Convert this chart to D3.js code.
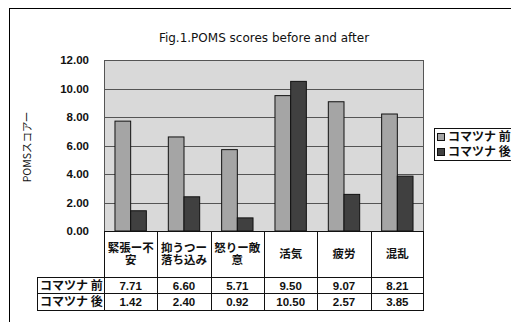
<!DOCTYPE html>
<html>
<head>
<meta charset="utf-8">
<script src="https://cdn.jsdelivr.net/npm/d3@7"></script>
<style>
  html, body { margin: 0; padding: 0; background: #fff; }
  svg { display: block; font-family: "Noto Sans CJK JP", "DejaVu Sans", sans-serif; }
</style>
</head>
<body>
<svg id="chart" width="511" height="322"></svg>
<script>
// POMS subscale scores, before and after
const categories = ["緊張ー不安", "抑うつー落ち込み", "怒りー敵意", "活気", "疲労", "混乱"];
const categoryLines = [["緊張ー不", "安"], ["抑うつー", "落ち込み"], ["怒りー敵", "意"], ["活気"], ["疲労"], ["混乱"]];
const seriesNames = ["コマツナ 前", "コマツナ 後"];
const beforeValues = [7.71, 6.60, 5.71, 9.50, 9.07, 8.21];
const afterValues = [1.42, 2.40, 0.92, 10.50, 2.57, 3.85];
const yTicks = [0, 2, 4, 6, 8, 10, 12];
const seriesColors = ["#a5a5a5", "#404040"];

const seriesValues = [beforeValues, afterValues];
const svg = d3.select("#chart");

const plot = { left: 104, right: 424, top: 60, bottom: 231 };
const table = { labelLeft: 37, catBottom: 277, row1Bottom: 293, row2Bottom: 310 };

// chart frame
svg.append("rect")
  .attr("x", 9.5).attr("y", 8.5).attr("width", 520).attr("height", 330)
  .attr("fill", "#fff").attr("stroke", "#000").attr("stroke-width", 1);

// title
svg.append("text")
  .attr("x", 264).attr("y", 42)
  .attr("text-anchor", "middle")
  .attr("font-size", 12)
  .attr("font-family", "'DejaVu Sans', sans-serif")
  .attr("fill", "#111")
  .text("Fig.1.POMS scores before and after");

const x0 = d3.scaleBand().domain(categories).range([plot.left, plot.right]).padding(0);
const x1 = d3.scaleBand().domain(seriesNames).range([0, x0.bandwidth()]).paddingInner(0).paddingOuter(0.7);
const y = d3.scaleLinear().domain([0, 12]).range([plot.bottom, plot.top]);

// plot background
svg.append("rect")
  .attr("x", plot.left).attr("y", plot.top)
  .attr("width", plot.right - plot.left).attr("height", plot.bottom - plot.top)
  .attr("fill", "#d9d9d9");

// gridlines
svg.append("g")
  .selectAll("line")
  .data(yTicks.filter(t => t > 0 && t < 12))
  .join("line")
  .attr("x1", plot.left).attr("x2", plot.right)
  .attr("y1", d => Math.round(y(d)) + 0.5).attr("y2", d => Math.round(y(d)) + 0.5)
  .attr("stroke", "#555").attr("stroke-width", 1);

// y axis labels
const yAxis = d3.axisLeft(y).tickValues(yTicks).tickFormat(d3.format(".2f")).tickSize(0).tickPadding(15);
const yg = svg.append("g").attr("transform", `translate(${plot.left},0)`).call(yAxis);
yg.select(".domain").remove();
yg.selectAll("text")
  .attr("font-size", 11.5).attr("font-weight", "bold").attr("fill", "#111")
  .attr("font-family", "'Liberation Sans', Arial, sans-serif");

// y axis title
svg.append("text")
  .attr("transform", "translate(31,147) rotate(-90)")
  .attr("text-anchor", "middle")
  .attr("font-size", 10.5)
  .attr("fill", "#111")
  .text("POMSスコアー");

// bars
const groups = svg.append("g")
  .selectAll("g")
  .data(categories)
  .join("g")
  .attr("transform", d => `translate(${x0(d)},0)`);

groups.selectAll("rect")
  .data((d, i) => seriesNames.map((s, j) => ({ s, j, v: seriesValues[j][i] })))
  .join("rect")
  .attr("x", d => x1(d.s))
  .attr("y", d => y(d.v))
  .attr("width", x1.bandwidth())
  .attr("height", d => y(0) - y(d.v))
  .attr("fill", d => seriesColors[d.j])
  .attr("stroke", "#111").attr("stroke-width", 1);

// plot border
svg.append("rect")
  .attr("x", plot.left + 0.5).attr("y", plot.top + 0.5)
  .attr("width", plot.right - plot.left - 1).attr("height", plot.bottom - plot.top)
  .attr("fill", "none").attr("stroke", "#555").attr("stroke-width", 1);

// data table
const tg = svg.append("g").attr("stroke", "#111").attr("stroke-width", 1);
// horizontal rules
[[plot.left, plot.bottom], [table.labelLeft, table.catBottom], [table.labelLeft, table.row1Bottom], [table.labelLeft, table.row2Bottom]]
  .forEach(([x, yy]) => {
    tg.append("line").attr("x1", x).attr("x2", plot.right)
      .attr("y1", yy + 0.5).attr("y2", yy + 0.5);
  });
// vertical rules
tg.append("line").attr("x1", table.labelLeft + 0.5).attr("x2", table.labelLeft + 0.5)
  .attr("y1", table.catBottom).attr("y2", table.row2Bottom + 1);
const colEdges = categories.map(c => x0(c)).concat([plot.right]);
colEdges.forEach((x, i) => {
  const xx = Math.round(x) + (i === colEdges.length - 1 ? -0.5 : 0.5);
  tg.append("line").attr("x1", xx).attr("x2", xx)
    .attr("y1", plot.bottom).attr("y2", table.row2Bottom + 1);
});

// category header text, wrapped lines as tspans
const catText = svg.append("g")
  .attr("font-size", 11.5).attr("font-weight", "bold").attr("fill", "#111")
  .attr("text-anchor", "middle");
categories.forEach((c, i) => {
  const lines = categoryLines[i];
  const cx = x0(c) + x0.bandwidth() / 2;
  const mid = (plot.bottom + table.catBottom) / 2;
  const t = catText.append("text")
    .attr("y", mid - (lines.length - 1) / 2 * 12.5)
    .attr("dy", "0.36em");
  lines.forEach((ln, k) => {
    t.append("tspan").attr("x", cx).attr("dy", k === 0 ? "0.36em" : 12.5).text(ln);
  });
});

// series rows
const rowMids = [(table.catBottom + table.row1Bottom) / 2 + 0.5, (table.row1Bottom + table.row2Bottom) / 2 + 0.5];
seriesNames.forEach((s, j) => {
  svg.append("text")
    .attr("x", table.labelLeft + 3).attr("y", rowMids[j]).attr("dy", "0.36em")
    .attr("font-size", 12).attr("font-weight", "bold").attr("fill", "#111")
    .text(s);
  categories.forEach((c, i) => {
    svg.append("text")
      .attr("x", x0(c) + x0.bandwidth() / 2).attr("y", rowMids[j]).attr("dy", "0.36em")
      .attr("text-anchor", "middle")
      .attr("font-size", 11.5).attr("font-weight", "bold").attr("fill", "#111")
      .attr("font-family", "'Liberation Sans', Arial, sans-serif")
      .text(seriesValues[j][i].toFixed(2));
  });
});

// legend
const lg = svg.append("g");
lg.append("rect").attr("x", 434.5).attr("y", 128.5).attr("width", 90).attr("height", 32)
  .attr("fill", "#fff").attr("stroke", "#111");
seriesNames.forEach((s, j) => {
  const cy = 137 + j * 15;
  lg.append("rect").attr("x", 437.5).attr("y", cy - 3.5).attr("width", 7).attr("height", 7)
    .attr("fill", seriesColors[j]).attr("stroke", "#111");
  lg.append("text").attr("x", 448).attr("y", cy).attr("dy", "0.36em")
    .attr("font-size", 12).attr("font-weight", "bold").attr("fill", "#111")
    .text(s);
});
</script>
</body>
</html>
